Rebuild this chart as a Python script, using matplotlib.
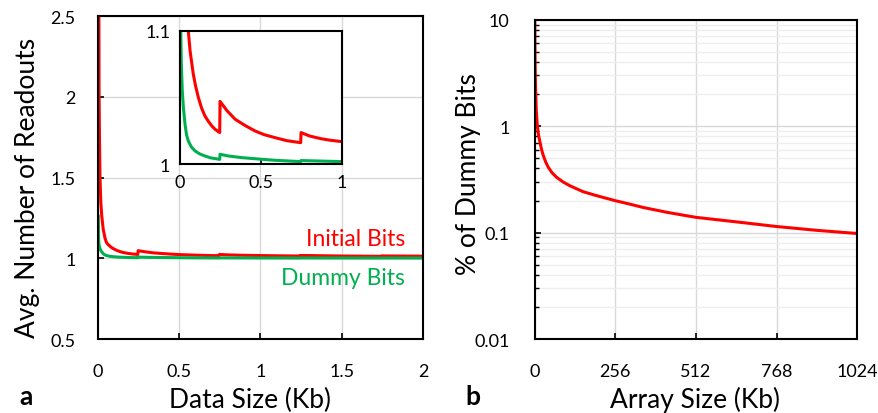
import matplotlib
matplotlib.use("Agg")
import matplotlib.pyplot as plt
from matplotlib.ticker import FuncFormatter, LogLocator

plt.rcParams['font.family'] = ['Lato', 'DejaVu Sans']

# panel a: avg. number of readouts vs data size (Kb)
red_x = [0.003, 0.0055, 0.0065, 0.009, 0.012, 0.017, 0.023, 0.032, 0.043, 0.051,
         0.062, 0.072, 0.082, 0.097, 0.113, 0.133, 0.154, 0.175, 0.196, 0.217,
         0.245, 0.247, 0.29, 0.34, 0.40, 0.463, 0.52, 0.586, 0.66, 0.745,
         0.747, 0.8, 0.87, 0.93, 1.0, 1.1, 1.245, 1.247, 1.5, 1.745, 1.747, 2.0]
red_y = [3.2, 2.5, 2.03, 1.75, 1.51, 1.35, 1.263, 1.18, 1.125, 1.10,
         1.085, 1.076, 1.0674, 1.058, 1.050, 1.042, 1.036, 1.032, 1.0286, 1.026,
         1.0236, 1.047, 1.040, 1.0336, 1.029, 1.0248, 1.022, 1.0198, 1.0175, 1.016,
         1.0236, 1.021, 1.019, 1.0178, 1.0168, 1.0155, 1.014, 1.0175, 1.014, 1.012, 1.0145, 1.013]
green_x = [0.002, 0.0035, 0.005, 0.008, 0.014, 0.021, 0.031, 0.04, 0.051, 0.07,
           0.093, 0.12, 0.154, 0.19, 0.245, 0.247, 0.3, 0.381, 0.48, 0.586,
           0.745, 0.747, 1.0, 1.245, 1.247, 1.5, 1.745, 1.747, 2.0]
green_y = [1.26, 1.13, 1.095, 1.075, 1.055, 1.042, 1.0298, 1.022, 1.0173, 1.0128,
           1.0098, 1.0077, 1.006, 1.0046, 1.0035, 1.0073, 1.006, 1.0048, 1.0038, 1.0028,
           1.0018, 1.0026, 1.0018, 1.0013, 1.0018, 1.0014, 1.0011, 1.0014, 1.0012]

# panel b: % of dummy bits vs array size (Kb)
array_kb = [0.3, 1, 2, 3.3, 5, 8.4, 12, 16.9, 22, 27.5, 35, 43.4, 55, 69.8, 90,
            112, 154, 197, 257, 302, 345, 420, 512, 641, 768, 895, 1024]
dummy_pct = [10, 4.5, 2.8, 2.0, 1.4, 1.0, 0.83, 0.703, 0.6, 0.527, 0.46, 0.409,
             0.365, 0.330, 0.299, 0.275, 0.242, 0.222, 0.199, 0.185, 0.172, 0.155,
             0.139, 0.126, 0.114, 0.105, 0.098]

RED = '#ff0000'
GREEN = '#00b050'
GRID = '#d9d9d9'

fig = plt.figure(figsize=(8.79, 4.14), dpi=100)

def style(ax, pad_x, pad_y, size=13):
    for s in ax.spines.values():
        s.set_linewidth(1.5)
        s.set_color('black')
    ax.tick_params(direction='in', length=4, width=1.2, labelsize=size, colors='black')
    ax.tick_params(axis='x', pad=pad_x)
    ax.tick_params(axis='y', pad=pad_y)

fmt = FuncFormatter(lambda v, p: '{:g}'.format(v))

# a
ax = fig.add_axes([0.1115, 0.1787, 0.3697, 0.7802])
ax.plot(red_x, red_y, color=RED, lw=2.2)
ax.plot(green_x, green_y, color=GREEN, lw=2.2)
ax.set_xlim(0, 2)
ax.set_ylim(0.5, 2.5)
ax.set_xticks([0, 0.5, 1, 1.5, 2])
ax.set_yticks([0.5, 1, 1.5, 2, 2.5])
ax.xaxis.set_major_formatter(fmt)
ax.yaxis.set_major_formatter(fmt)
ax.grid(True, color=GRID, lw=1)
ax.set_axisbelow(True)
style(ax, 17, 16)
ax.set_xlabel('Data Size (Kb)', fontsize=19)
ax.set_ylabel('Avg. Number of Readouts', fontsize=19)
ax.xaxis.set_label_coords(0.468, -0.147)
ax.yaxis.set_label_coords(-0.18, 0.47)
ax.text(0.945, 0.31, 'Initial Bits', color=RED, fontsize=16.5, ha='right', va='center',
        transform=ax.transAxes)
ax.text(0.945, 0.192, 'Dummy Bits', color=GREEN, fontsize=16.5, ha='right', va='center',
        transform=ax.transAxes)

# inset
ins = fig.add_axes([0.2048, 0.6014, 0.1843, 0.322])
ins.plot(red_x, red_y, color=RED, lw=2.2)
ins.plot(green_x, green_y, color=GREEN, lw=2.2)
ins.set_xlim(0, 1)
ins.set_ylim(1, 1.1)
ins.set_xticks([0, 0.5, 1])
ins.set_yticks([1, 1.1])
ins.xaxis.set_major_formatter(fmt)
ins.yaxis.set_major_formatter(fmt)
style(ins, 7, 7)

# b
bx = fig.add_axes([0.6083, 0.1787, 0.367, 0.7713])
bx.plot(array_kb, dummy_pct, color=RED, lw=2.2)
bx.set_yscale('log')
bx.set_xlim(0, 1024)
bx.set_ylim(0.01, 10)
bx.set_xticks([0, 256, 512, 768, 1024])
bx.yaxis.set_major_locator(LogLocator(base=10, numticks=10))
bx.yaxis.set_minor_locator(LogLocator(base=10, subs=range(2, 10), numticks=10))
bx.yaxis.set_major_formatter(fmt)
bx.grid(True, which='major', color=GRID, lw=1)
bx.grid(True, which='minor', axis='y', color='#eeeeee', lw=1)
bx.set_axisbelow(True)
style(bx, 17, 18)
bx.tick_params(axis='y', which='minor', direction='in', length=3, width=1)
bx.set_xlabel('Array Size (Kb)', fontsize=19)
bx.set_ylabel('% of Dummy Bits', fontsize=19)
bx.xaxis.set_label_coords(0.497, -0.148)
bx.yaxis.set_label_coords(-0.166, 0.52)

fig.text(0.03, 0.04, 'a', fontsize=19, fontweight='bold', ha='center', va='center')
fig.text(0.538, 0.04, 'b', fontsize=19, fontweight='bold', ha='center', va='center')

fig.savefig('out.png', dpi=100)
